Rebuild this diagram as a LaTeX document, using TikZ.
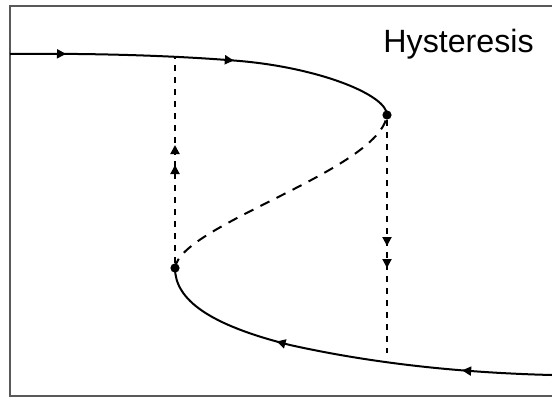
\documentclass[tikz,border=0pt]{standalone}
\usepackage{fontspec}
\setmainfont{Liberation Sans}
\usetikzlibrary{arrows.meta,decorations.markings}

\begin{document}
\begin{tikzpicture}[x=0.5pt, y=-0.5pt,
  branch/.style={line width=1pt, draw=black},
  jump/.style={line width=1pt, draw=black, dash pattern=on 3pt off 3pt},
  unstable/.style={line width=1pt, draw=black, dash pattern=on 5pt off 4pt},
  fold/.style={circle, fill=black, inner sep=0pt, minimum size=4.6pt},
  flow/.style={postaction={decorate, decoration={markings, mark=at position #1 with {\arrow{Triangle[length=4.5pt,width=4.5pt]}}}}},
  frame/.style={line width=1.2pt, draw=black!65}]
  \useasboundingbox (0,0) rectangle (552,398);
  % frame
  \draw[frame] (552,6) -- (10,6) -- (10,396) -- (552,396);
  \node[anchor=base west, inner sep=0pt, font=\fontsize{16.1}{19}\selectfont] (title) at (383,52) {Hysteresis};
  % fold points
  \node[fold] (foldUp) at (387,115) {};
  \node[fold] (foldLow) at (175,268) {};
  \coordinate (startUp) at (10,54);
  \coordinate (midUp) at (240,61);
  \coordinate (startLow) at (552,375);
  \coordinate (midLow) at (290,345);
  \coordinate (jumpUp) at (175,57);
  \coordinate (jumpDown) at (387,353);
  % stable branches
  \draw[branch, flow=28pt, flow=112pt] (startUp) .. controls (100,53) and (180,56) .. (midUp)
    .. controls (320,68) and (387,95) .. (foldUp.center);
  \draw[branch, flow=45pt, flow=139pt] (startLow) .. controls (470,373) and (380,365) .. (midLow)
    .. controls (210,325) and (175,300) .. (foldLow.center);
  % unstable branch
  \draw[unstable] (foldLow.center) .. controls (180,225) and (380,170) .. (foldUp.center);
  % jumps
  \draw[jump, flow=49pt, flow=59pt] (foldLow) -- (jumpUp);
  \draw[jump, flow=63pt, flow=74pt] (foldUp) -- (jumpDown);
\end{tikzpicture}
\end{document}
